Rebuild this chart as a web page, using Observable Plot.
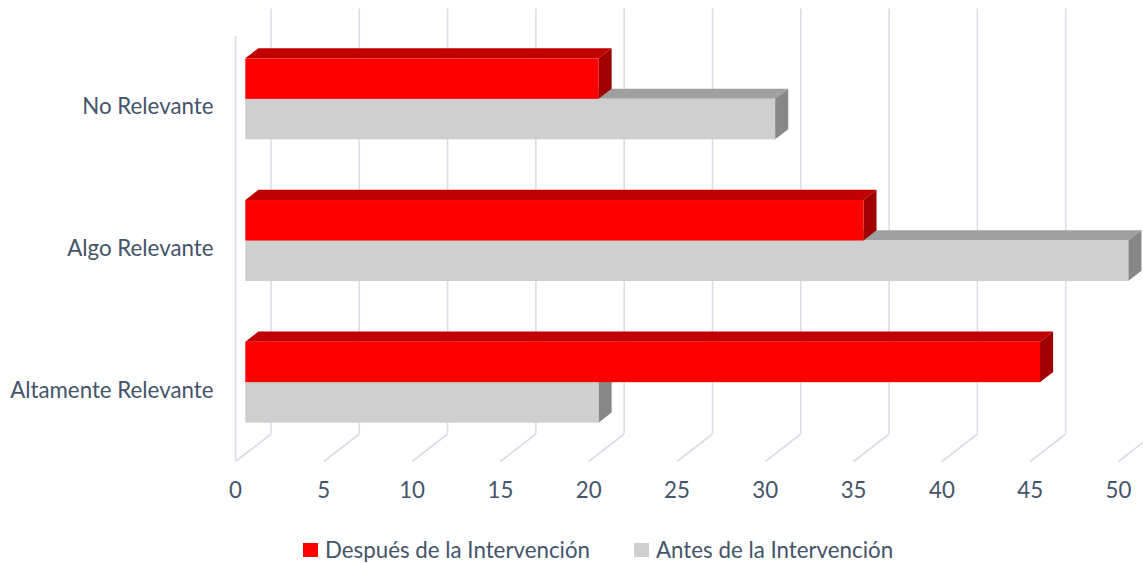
<!DOCTYPE html>
<html>
<head>
<meta charset="utf-8">
<script src="https://cdn.jsdelivr.net/npm/d3@7"></script>
<script src="https://cdn.jsdelivr.net/npm/@observablehq/plot@0.6"></script>
<style>
  html, body { margin: 0; padding: 0; background: #fff; overflow: hidden; }
  #wrap { position: relative; width: 1143px; height: 563px; }
  #legend { position: absolute; left: 303px; top: 538px; display: flex; align-items: center;
            font-family: Lato, "Open Sans", sans-serif; font-size: 22.3px; line-height: 24px;
            color: #44546A; white-space: nowrap; }
  #legend .item { display: flex; align-items: center; }
  #legend .sw { width: 15px; height: 14px; margin-right: 7px; }
</style>
</head>
<body>
<div id="wrap">
  <div id="chart"></div>
  <div id="legend"></div>
</div>
<script>
// ---- data ----
const categories = ["No Relevante", "Algo Relevante", "Altamente Relevante"];
const despues = [20, 35, 45];
const antes = [30, 50, 20];
const seriesNames = ["Después de la Intervención", "Antes de la Intervención"];
const xTicks = [0, 5, 10, 15, 20, 25, 30, 35, 40, 45, 50];

// ---- styles ----
const palette = {
  "Después de la Intervención": {front: "#FF0000", top: "#C00000", side: "#A00000"},
  "Antes de la Intervención":   {front: "#D0CFD0", top: "#A0A0A0", side: "#878787"}
};
const W = 1143, H = 525;
const frame = {left: 235, right: 1118, top: 36, bottom: 461};
const kx = 50 / (frame.right - frame.left);      // data units per px (x)
const ky = 3 / (frame.bottom - frame.top);       // data units per px (y)
const DX = 35.5 * kx;     // full depth in x (data units)
const DY = -27.5 * ky;    // full depth in y (data units)
const d0 = 0.29, d1 = 0.66; // bar depth span
const half = 40.5 * ky;   // bar thickness in y units
const FS = 22.3;

// build bar faces (gray drawn first, then red)
const faces = [];
categories.forEach((c, i) => {
  const center = i + 0.5;
  const bars = [
    {s: seriesNames[1], v: antes[i], yt: center, yb: center + half},
    {s: seriesNames[0], v: despues[i], yt: center - half, yb: center}
  ];
  bars.forEach((b, j) => faces.push({key: `${i}-${j}`, ...b}));
});

const frontRects = faces.map(f => ({key: f.key, s: f.s,
  x1: d0 * DX, x2: f.v + d0 * DX, y1: f.yt + d0 * DY, y2: f.yb + d0 * DY}));
const topPts = faces.flatMap(f => [
  {key: f.key, s: f.s, y: f.yt + d0 * DY, x1: d0 * DX, x2: f.v + d0 * DX},
  {key: f.key, s: f.s, y: f.yt + d1 * DY, x1: d1 * DX, x2: f.v + d1 * DX}
]);
const sidePts = faces.flatMap(f => [
  {key: f.key, s: f.s, x: f.v + d0 * DX, y1: f.yt + d0 * DY, y2: f.yb + d0 * DY},
  {key: f.key, s: f.s, x: f.v + d1 * DX, y1: f.yt + d1 * DY, y2: f.yb + d1 * DY}
]);

const grid = "#D9DEE6";
const marks = [
  Plot.ruleX(xTicks, {x: d => d + DX, y1: DY, y2: 3 + DY, stroke: grid, strokeWidth: 1.6}),
  Plot.link(xTicks, {x1: d => d, y1: 3, x2: d => d + DX, y2: 3 + DY, stroke: grid, strokeWidth: 1.6}),
  Plot.ruleX([0], {x: d => d, y1: 0, y2: 3, stroke: grid, strokeWidth: 1.6})
];
faces.forEach(f => {
  const col = palette[f.s];
  marks.push(
    Plot.areaX(topPts.filter(p => p.key === f.key), {y: "y", x1: "x1", x2: "x2", fill: col.top}),
    Plot.areaY(sidePts.filter(p => p.key === f.key), {x: "x", y1: "y1", y2: "y2", fill: col.side}),
    Plot.rect(frontRects.filter(p => p.key === f.key), {x1: "x1", x2: "x2", y1: "y1", y2: "y2", fill: col.front})
  );
});
marks.push(
  Plot.text(categories, {x: 0, y: (d, i) => i + 0.5, text: d => d, textAnchor: "end", dx: -22,
    fontSize: FS, fill: "#44546A"}),
  Plot.axisX(xTicks, {tickSize: 0, tickPadding: 21, fontSize: FS})
);

const chart = Plot.plot({
  width: W, height: H,
  marginLeft: frame.left, marginRight: W - frame.right,
  marginTop: frame.top, marginBottom: H - frame.bottom,
  x: {domain: [0, 50]},
  y: {domain: [0, 3], reverse: true, axis: null},
  style: {fontFamily: "Lato, 'Open Sans', sans-serif", color: "#44546A", background: "#fff"},
  marks
});
document.getElementById("chart").appendChild(chart);

// legend
const leg = document.getElementById("legend");
seriesNames.forEach((name, i) => {
  const it = document.createElement("div");
  it.className = "item";
  if (i > 0) it.style.marginLeft = "44px";
  const sw = document.createElement("div");
  sw.className = "sw";
  sw.style.background = palette[name].front;
  const tx = document.createElement("span");
  tx.textContent = name;
  it.appendChild(sw); it.appendChild(tx);
  leg.appendChild(it);
});
</script>
</body>
</html>
